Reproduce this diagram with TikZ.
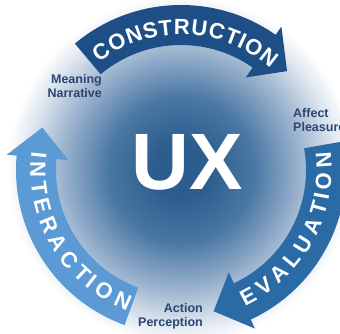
\documentclass[tikz,border=0pt]{standalone}
\usepackage{fontspec}
\setmainfont{Liberation Sans}
\usepackage{xcolor}
\usepackage{tikz}

\definecolor{navyarrow}{HTML}{1D4E86}
\definecolor{midarrow}{HTML}{2B6BA5}
\definecolor{lightarrow}{HTML}{5B9AD4}
\definecolor{labeltext}{HTML}{2B4670}
\definecolor{glowcore}{HTML}{2C5D8E}
\definecolor{glowmid}{HTML}{4A78A4}
\definecolor{glowlight}{HTML}{9AB2CD}
\definecolor{glowedge}{HTML}{DCE5EE}
% Degradado radial del fondo (25bp = borde del circulo)
\pgfdeclareradialshading{uxglow}{\pgfpoint{0bp}{0bp}}{color(0bp)=(glowcore); color(4bp)=(glowcore); color(10.5bp)=(glowmid); color(17bp)=(glowlight); color(22bp)=(glowedge); color(25bp)=(white); color(50bp)=(white)}

% Flecha circular: #1 = angulo de la cola, #2 = color
\newcommand{\ringarrow}[2]{%
  \fill[#2] (#1:165) arc[start angle=#1, end angle=#1-75, radius=165]
    -- ({#1-75}:175) -- ({#1-87}:145) -- ({#1-75}:113) -- ({#1-75}:125)
    arc[start angle=#1-75, end angle=#1, radius=125] -- cycle;}

% Palabra sobre la flecha: #1 = angulo inicial, #2 = grados por em,
% #3 = giro de las letras, #4 = nombre, #5 = letra/posicion (em)
\newcommand{\ringword}[5]{%
  \foreach \ch/\off [count=\i] in {#5}
    \node[ringletter, rotate={#1+#2*\off+#3}] (#4\i) at ({#1+#2*\off}:143) {\ch};}

\begin{document}
\begin{tikzpicture}[
            x=1pt, y=1pt,
            % Letras sobre las flechas
            ringletter/.style={text=white, font=\bfseries\fontsize{22}{22}\selectfont, inner sep=0pt},
            % Etiquetas entre flechas
            lbl/.style={text=labeltext, font=\bfseries\fontsize{12.5}{14}\selectfont, inner sep=0pt}
        ]
            \clip (0,0) rectangle (340,333);
            \fill[white] (0,0) rectangle (340,333);
            \begin{scope}[shift={(181,163)}]
                \shade[shading=uxglow] (0,0) circle (174);
                \ringarrow{130}{navyarrow}
                \ringarrow{10}{midarrow}
                \ringarrow{250}{lightarrow}
                \ringword{124}{-9.82}{-90}{con}{C/0, O/.75, N/1.5, S/2.195, T/2.833, R/3.5, U/4.222, C/4.944, T/5.611, I/6.055, O/6.583, N/7.333}
                \ringword{-62}{11.37}{90}{eva}{E/0, V/.667, A/1.362, L/2.028, U/2.695, A/3.417, T/4.083, I/4.528, O/5.056, N/5.806}
                \ringword{174}{11.37}{90}{int}{I/0, N/.5, T/1.167, E/1.806, R/2.5, A/3.222, C/3.944, T/4.611, I/5.055, O/5.583, N/6.333}
            \end{scope}

            \node[text=white, font=\bfseries\fontsize{80}{80}\selectfont, inner sep=0pt] (ux) at (187,171) {UX};
            \node[lbl, align=right, anchor=north east] (meaning) at (102,259) {Meaning\\Narrative};
            \node[lbl, align=left, anchor=north west] (affect) at (293,225) {Affect\\Pleasure};
            \node[lbl, align=right, anchor=north east] (action) at (203,30) {Action\\Perception};
        \end{tikzpicture}
\end{document}
